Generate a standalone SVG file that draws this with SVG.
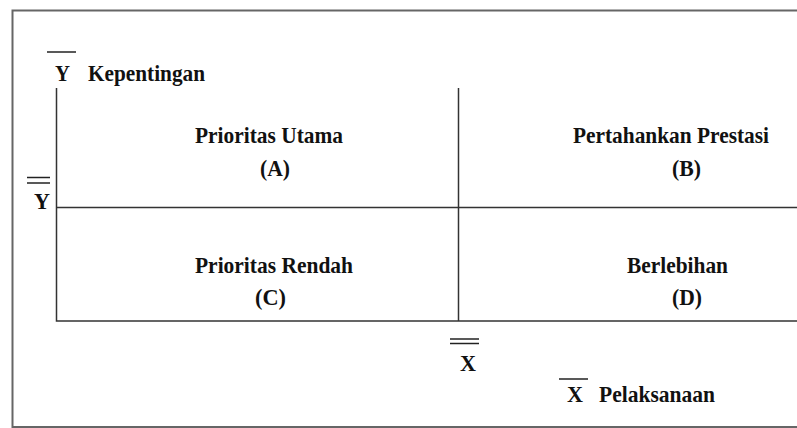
<svg xmlns="http://www.w3.org/2000/svg" width="797" height="428" viewBox="0 0 797 428">
<style>
.t{font-family:"Liberation Serif","DejaVu Serif",serif;font-weight:bold;font-size:24px;fill:#111}
.ln{stroke:#333;stroke-width:1.5;fill:none}
.fr{stroke:#666;stroke-width:2;fill:none}
.bar{stroke:#222;stroke-width:1.5}
</style>
<rect width="797" height="428" fill="#fff"/>
<g id="frame">
<path class="fr" d="M797 10.5 H12.5 V427 H797"/>
</g>
<g id="connectors">
<path class="ln" d="M56.5 88 V321 H797"/>
<path class="ln" d="M458.5 88 V321"/>
<path class="ln" d="M56.5 207.5 H797"/>
</g>
<g id="axis-y">
<line class="bar" x1="47" y1="52" x2="76" y2="52"/>
<text class="t" x="55" y="81" textLength="15" lengthAdjust="spacingAndGlyphs">Y</text>
<text class="t" x="88" y="81" textLength="117" lengthAdjust="spacingAndGlyphs">Kepentingan</text>
</g>
<g id="ybar">
<line class="bar" x1="27" y1="177.5" x2="50" y2="177.5"/>
<line class="bar" x1="27" y1="183" x2="50" y2="183"/>
<text class="t" x="34" y="209" textLength="16" lengthAdjust="spacingAndGlyphs">Y</text>
</g>
<g id="xbar">
<line class="bar" x1="450" y1="339" x2="479" y2="339"/>
<line class="bar" x1="450" y1="343.5" x2="479" y2="343.5"/>
<text class="t" x="460" y="371" textLength="16" lengthAdjust="spacingAndGlyphs">X</text>
</g>
<g id="axis-x">
<line class="bar" x1="559" y1="379" x2="588" y2="379"/>
<text class="t" x="567" y="402" textLength="16" lengthAdjust="spacingAndGlyphs">X</text>
<text class="t" x="599" y="402" textLength="116" lengthAdjust="spacingAndGlyphs">Pelaksanaan</text>
</g>
<g id="quadrant-a">
<text class="t" x="195" y="143" textLength="148" lengthAdjust="spacingAndGlyphs">Prioritas Utama</text>
<text class="t" x="260" y="176" textLength="30" lengthAdjust="spacingAndGlyphs">(A)</text>
</g>
<g id="quadrant-b">
<text class="t" x="573" y="143" textLength="196" lengthAdjust="spacingAndGlyphs">Pertahankan Prestasi</text>
<text class="t" x="672" y="176" textLength="29" lengthAdjust="spacingAndGlyphs">(B)</text>
</g>
<g id="quadrant-c">
<text class="t" x="195" y="273" textLength="158" lengthAdjust="spacingAndGlyphs">Prioritas Rendah</text>
<text class="t" x="255" y="305" textLength="31" lengthAdjust="spacingAndGlyphs">(C)</text>
</g>
<g id="quadrant-d">
<text class="t" x="627" y="273" textLength="101" lengthAdjust="spacingAndGlyphs">Berlebihan</text>
<text class="t" x="672" y="305" textLength="30" lengthAdjust="spacingAndGlyphs">(D)</text>
</g>
</svg>
